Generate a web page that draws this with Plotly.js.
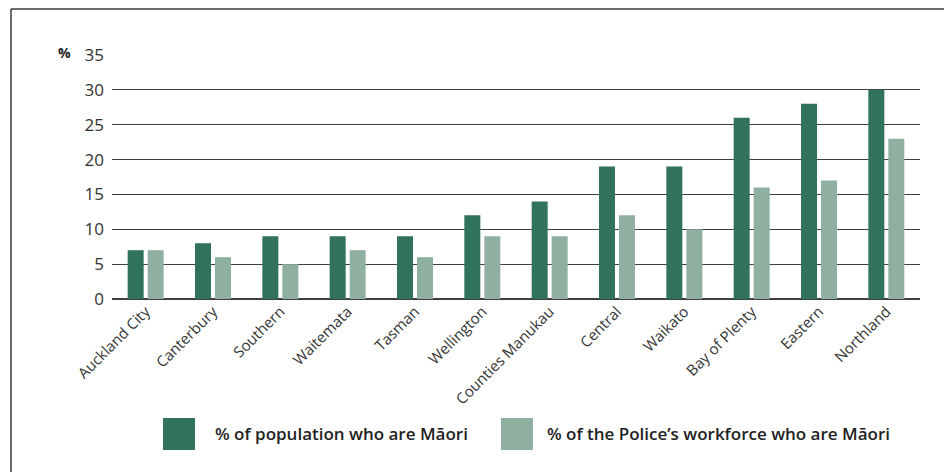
<!DOCTYPE html>
<html>
<head>
<meta charset="utf-8">
<script src="https://cdn.plot.ly/plotly-3.0.1.min.js"></script>
<style>
  html, body { margin: 0; padding: 0; background: #ffffff; }
  #chart { width: 944px; height: 472px; }
</style>
</head>
<body>
<div id="chart"></div>
<script>
const districts = ["Auckland City", "Canterbury", "Southern", "Waitemata", "Tasman", "Wellington",
  "Counties Manukau", "Central", "Waikato", "Bay of Plenty", "Eastern", "Northland"];
const populationMaori = [7, 8, 9, 9, 9, 12, 14, 19, 19, 26, 28, 30];
const workforceMaori = [7, 6, 5, 7, 6, 9, 9, 12, 10, 16, 17, 23];
const seriesNames = ["% of population who are Māori", "% of the Police’s workforce who are Māori"];
const seriesColors = ["#30725a", "#8fafa0"];
const yTicks = [0, 5, 10, 15, 20, 25, 30, 35];

const traces = [
  { type: "bar", x: districts, y: populationMaori, name: seriesNames[0],
    marker: { color: seriesColors[0] } },
  { type: "bar", x: districts, y: workforceMaori, name: seriesNames[1],
    marker: { color: seriesColors[1] } }
];

// legend drawn as swatches + text (large square swatches like the reference)
const legendSwatchX = [[0.0631, 0.1027], [0.4814, 0.5210]];
const legendTextX = [0.1245, 0.5355];
const shapes = [];
const annotations = [];
seriesNames.forEach((nm, i) => {
  shapes.push({ type: "rect", xref: "paper", yref: "paper",
    x0: legendSwatchX[i][0], x1: legendSwatchX[i][1], y0: -0.6189, y1: -0.4877,
    fillcolor: seriesColors[i], line: { width: 0 } });
  annotations.push({ xref: "paper", yref: "paper", x: legendTextX[i], y: -0.551,
    xanchor: "left", yanchor: "middle", showarrow: false, text: nm,
    font: { family: "Open Sans", size: 17, color: "#222222", weight: 600 } });
});
// frame lines (top and left)
shapes.push({ type: "line", xref: "paper", yref: "paper", x0: -0.125, x1: 1.04, y0: 1.1885, y1: 1.1885,
  line: { color: "#3a3a3a", width: 1.5 } });
shapes.push({ type: "line", xref: "paper", yref: "paper", x0: -0.125, x1: -0.125, y0: 1.1885, y1: -0.72,
  line: { color: "#3a3a3a", width: 1.5 } });
// "%" unit label
annotations.push({ xref: "paper", yref: "paper", x: -0.0594, y: 1.012, xanchor: "center", yanchor: "middle",
  showarrow: false, text: "%", font: { family: "Open Sans", size: 14, color: "#222222", weight: 700 } });

const layout = {
  width: 944, height: 472,
  margin: { l: 112, r: 24, t: 55, b: 173, pad: 0 },
  paper_bgcolor: "#ffffff", plot_bgcolor: "#ffffff",
  showlegend: false,
  barmode: "group", bargap: 0.406, bargroupgap: 0.2,
  font: { family: "Open Sans", color: "#333333" },
  xaxis: {
    type: "category", tickangle: -45, showgrid: false, zeroline: false, showline: false,
    ticks: "", tickfont: { family: "Open Sans", size: 15, color: "#333333" }, ticklabelstandoff: 0
  },
  yaxis: {
    range: [0, 35], tickvals: yTicks, ticktext: yTicks.map(String),
    showgrid: true, gridcolor: "#3f3f3f", gridwidth: 1.2, zeroline: true, zerolinecolor: "#3f3f3f", zerolinewidth: 1.3,
    showline: false, ticks: "", ticklabelstandoff: 7,
    tickfont: { family: "Open Sans", size: 17, color: "#333333" }
  },
  shapes: shapes,
  annotations: annotations
};

Plotly.newPlot("chart", traces, layout, { displayModeBar: false, staticPlot: true });
</script>
</body>
</html>
